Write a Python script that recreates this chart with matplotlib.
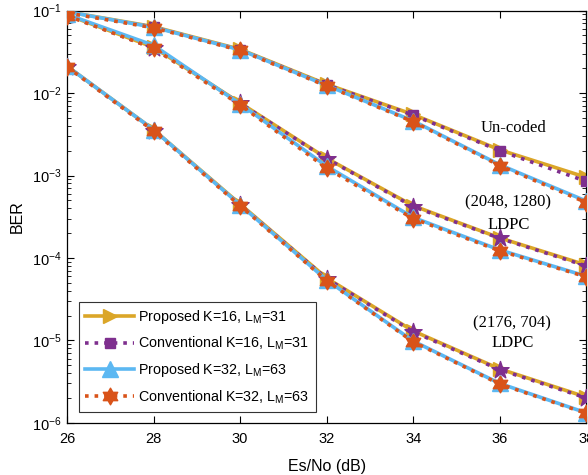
import matplotlib
matplotlib.use("Agg")
import matplotlib.pyplot as plt
from matplotlib.path import Path
from matplotlib.lines import Line2D
import numpy as np

x = [26, 28, 30, 32, 34, 36, 38]

# Un-coded group
unc_prop16 = [0.097, 0.064, 0.034, 0.0128, 0.0055, 0.00205, 0.00095]
unc_conv16 = [0.095, 0.063, 0.0335, 0.0126, 0.0054, 0.0020, 0.00085]
unc_prop32 = [0.097, 0.063, 0.0335, 0.0124, 0.0046, 0.00135, 0.00049]
unc_conv32 = [0.094, 0.062, 0.033, 0.0122, 0.0045, 0.00132, 0.00047]

# (2048, 1280) LDPC group
l1_prop16 = [0.089, 0.036, 0.0076, 0.00162, 0.00043, 0.000175, 8.2e-5]
l1_conv16 = [0.088, 0.035, 0.0075, 0.00160, 0.00042, 0.000173, 8.0e-5]
l1_prop32 = [0.090, 0.038, 0.0074, 0.00130, 0.00031, 0.000125, 6.0e-5]
l1_conv32 = [0.087, 0.035, 0.0072, 0.00123, 0.00030, 0.000122, 5.9e-5]

# (2176, 704) LDPC group
l2_prop16 = [0.0212, 0.0036, 0.00045, 5.7e-5, 1.3e-5, 4.5e-6, 2.05e-6]
l2_conv16 = [0.0210, 0.0035, 0.00044, 5.6e-5, 1.27e-5, 4.4e-6, 2.0e-6]
l2_prop32 = [0.0212, 0.0036, 0.00044, 5.4e-5, 9.8e-6, 3.0e-6, 1.32e-6]
l2_conv32 = [0.0208, 0.0035, 0.00043, 5.3e-5, 9.6e-6, 2.95e-6, 1.3e-6]

labels = ["Proposed K=16, L$_\\mathregular{M}$=31",
          "Conventional K=16, L$_\\mathregular{M}$=31",
          "Proposed K=32, L$_\\mathregular{M}$=63",
          "Conventional K=32, L$_\\mathregular{M}$=63"]

c_gold = "#DBA628"
c_purple = "#7E2F8E"
c_blue = "#5CB8F2"
c_orange = "#D95319"

plt.rcParams['font.family'] = ['Liberation Sans', 'DejaVu Sans']
plt.rcParams['mathtext.fontset'] = 'custom'
plt.rcParams['mathtext.rm'] = 'Liberation Sans'

hexagram = Path.unit_regular_star(6, innerCircle=0.577)
pentagram = Path.unit_regular_star(5, innerCircle=0.382)

fig = plt.figure(figsize=(5.88, 4.75), dpi=100)
ax = fig.add_axes([0.114, 0.11, 0.883, 0.8675])

lw = 2.6
sty = {
    'p16': dict(ls='-', color=c_gold, lw=lw, marker='>', ms=10, mfc=c_gold, mec=c_gold),
    'c16s': dict(ls=':', color=c_purple, lw=lw, marker='s', ms=7, mfc=c_purple, mec=c_purple),
    'c16p': dict(ls=':', color=c_purple, lw=lw, marker=pentagram, ms=13, mfc=c_purple, mec=c_purple),
    'p32': dict(ls='-', color=c_blue, lw=lw, marker='^', ms=11, mfc=c_blue, mec=c_blue),
    'c32': dict(ls=':', color=c_orange, lw=lw, marker=hexagram, ms=12, mfc=c_orange, mec=c_orange),
}
groups = [
    (unc_prop16, unc_conv16, unc_prop32, unc_conv32, 'c16s'),
    (l1_prop16, l1_conv16, l1_prop32, l1_conv32, 'c16p'),
    (l2_prop16, l2_conv16, l2_prop32, l2_conv32, 'c16p'),
]
for p16, c16, p32, c32, k16 in groups:
    ax.plot(x, p16, zorder=2, **sty['p16'])
    ax.plot(x, c16, zorder=3, **sty[k16])
    ax.plot(x, p32, zorder=4, **sty['p32'])
    ax.plot(x, c32, zorder=5, **sty['c32'])

ax.set_yscale('log')
ax.set_xlim(26, 38)
ax.set_ylim(1e-6, 1e-1)
ax.set_xticks([26, 28, 30, 32, 34, 36, 38])
ax.tick_params(which='both', direction='in', top=True, right=True, labelsize=10.5)
ax.tick_params(axis='x', pad=7)
ax.tick_params(axis='y', pad=4)
ax.tick_params(which='major', length=5)
ax.tick_params(which='minor', length=3)
for s in ax.spines.values():
    s.set_linewidth(0.9)
ax.set_xlabel('Es/No (dB)', fontsize=11.5, labelpad=9)
ax.set_ylabel('BER', fontsize=11.5, labelpad=5)

leg_handles = [Line2D([], [], **sty[k]) for k in ['p16', 'c16s', 'p32', 'c32']]
leg = ax.legend(leg_handles, labels, loc='lower left', bbox_to_anchor=(0.023, 0.026),
                borderaxespad=0, fontsize=10.3, handlelength=3.4, frameon=True,
                fancybox=False, edgecolor='#333333', framealpha=1, borderpad=0.45,
                labelspacing=0.62, handletextpad=0.3)
leg.get_frame().set_linewidth(0.8)

serif = ['Liberation Serif', 'DejaVu Serif']
ax.text(36.31, 10**-2.42, 'Un-coded', family=serif, fontsize=12, ha='center', va='center')
ax.text(36.2, 10**-3.33, '(2048, 1280)', family=serif, fontsize=12, ha='center', va='center')
ax.text(36.2, 10**-3.60, 'LDPC', family=serif, fontsize=12, ha='center', va='center')
ax.text(36.29, 10**-4.79, '(2176, 704)', family=serif, fontsize=12, ha='center', va='center')
ax.text(36.29, 10**-5.03, 'LDPC', family=serif, fontsize=12, ha='center', va='center')

fig.savefig('out.png', dpi=100)
